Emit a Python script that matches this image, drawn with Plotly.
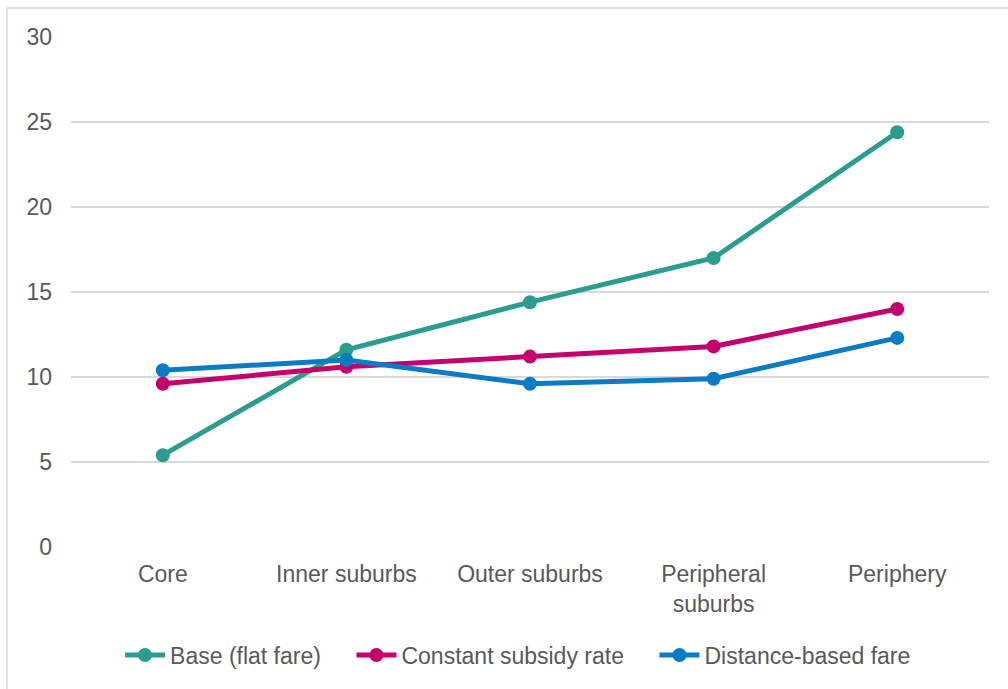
import plotly.graph_objects as go

# Ring categories along the x axis
zones = ["Core", "Inner suburbs", "Outer suburbs", "Peripheral<br>suburbs", "Periphery"]

# Values per fare scenario
base_flat_fare = [5.4, 11.6, 14.4, 17.0, 24.4]
constant_subsidy = [9.6, 10.6, 11.2, 11.8, 14.0]
distance_based = [10.4, 11.0, 9.6, 9.9, 12.3]

y_ticks = [0, 5, 10, 15, 20, 25, 30]

series = [
    ("Base (flat fare)", base_flat_fare, "#2A9D8F"),
    ("Constant subsidy rate", constant_subsidy, "#C4006E"),
    ("Distance-based fare", distance_based, "#0A7CC4"),
]

FONT = "Liberation Sans, Arial, sans-serif"
TEXT = "#595959"
GRID = "#D9D9D9"
PAD = "\u00a0" * 4  # extra room between legend entries

fig = go.Figure()
for i, (name, vals, color) in enumerate(series):
    label = name + (PAD if i < len(series) - 1 else "")
    fig.add_trace(go.Scatter(
        x=zones, y=vals, name=label, mode="lines+markers",
        line=dict(color=color, width=5),
        marker=dict(color=color, size=14),
    ))

fig.update_layout(
    width=1008, height=689,
    margin=dict(l=71, r=19, t=37, b=142),
    paper_bgcolor="white", plot_bgcolor="white",
    font=dict(family=FONT, size=23, color=TEXT),
    legend=dict(
        orientation="h", x=0.487, xanchor="center",
        y=-0.212, yanchor="middle",
        font=dict(family=FONT, size=23, color=TEXT),
        itemwidth=40, tracegroupgap=0,
    ),
    xaxis=dict(
        range=[-0.5, len(zones) - 0.5],
        showgrid=False, showline=False, zeroline=False,
        ticks="", ticklabelstandoff=11,
        tickfont=dict(family=FONT, size=23, color=TEXT),
    ),
    yaxis=dict(
        range=[0, 30], tickvals=y_ticks, showgrid=True,
        gridcolor=GRID, gridwidth=1.5, zeroline=False, showline=False,
        ticks="", ticklabelstandoff=18,
        tickfont=dict(family=FONT, size=23, color=TEXT),
    ),
    shapes=[dict(
        type="rect", xref="paper", yref="paper",
        x0=-0.0697, x1=1.2, y0=-0.5, y1=1.0569,
        line=dict(color=GRID, width=1.5), layer="below",
    )],
)

fig.write_html("out.html")
